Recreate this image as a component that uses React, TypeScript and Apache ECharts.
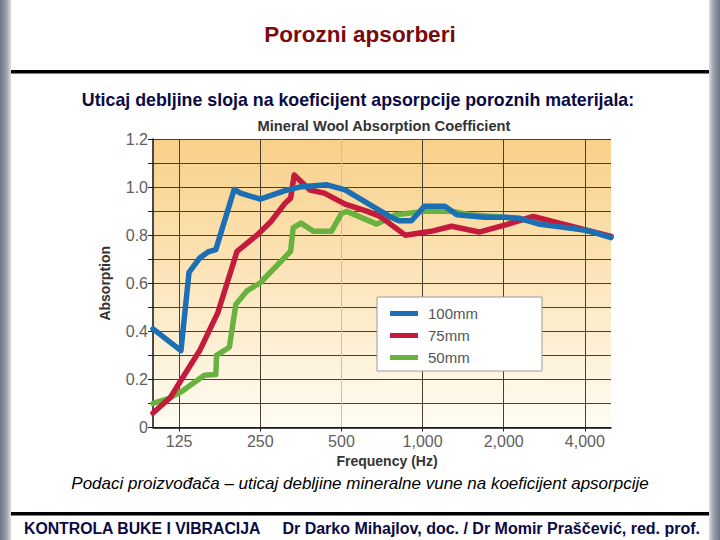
import React, { useEffect, useRef } from 'react';
import * as echarts from 'echarts';

// ---- data ----
const tickFreqs = [125, 250, 500, 1000, 2000, 4000];
const darkGridFreqs = [125, 250, 1000, 2000, 4000];
const lightGridFreqs = [500];
const freqMin = 100;
const freqMax = 5000;
const seriesNames = ['100mm', '75mm', '50mm'];

const freq100 = [100, 127, 136, 149, 160, 171, 200, 211, 250, 309, 349, 439, 516, 624, 754, 817, 909, 1015, 1210, 1340, 1700, 2000, 2294, 2724, 4070, 5000];
const abs100 = [0.41, 0.32, 0.645, 0.705, 0.73, 0.74, 0.99, 0.975, 0.95, 0.985, 1.0, 1.01, 0.988, 0.933, 0.878, 0.86, 0.86, 0.92, 0.92, 0.885, 0.875, 0.875, 0.87, 0.845, 0.82, 0.79];

const freq75 = [100, 116, 126, 149, 174, 205, 243, 274, 309, 324, 334, 382, 432, 516, 624, 695, 862, 1075, 1281, 1620, 2047, 2572, 5000];
const abs75 = [0.06, 0.125, 0.19, 0.32, 0.478, 0.733, 0.8, 0.857, 0.933, 0.954, 1.05, 0.988, 0.975, 0.929, 0.899, 0.878, 0.8, 0.816, 0.837, 0.813, 0.844, 0.878, 0.795];

const freq50 = [100, 114, 127, 155, 171, 172, 192, 203, 223, 250, 324, 331, 354, 394, 459, 500, 524, 676, 795, 1015, 1281, 1500, 2000, 2500, 4000, 5000];
const abs50 = [0.1, 0.12, 0.148, 0.217, 0.22, 0.3, 0.334, 0.513, 0.568, 0.602, 0.733, 0.83, 0.85, 0.816, 0.816, 0.89, 0.899, 0.846, 0.885, 0.899, 0.9, 0.885, 0.875, 0.86, 0.82, 0.795];

const colors = { '100mm': '#1d6fb4', '75mm': '#c41a3c', '50mm': '#6ab23f' };

const lg = (f: number) => Math.log2(f);
const pairs = (fs: number[], vs: number[]) => fs.map((f, i) => [lg(f), vs[i]]);

const FONT = '"Liberation Sans", Arial, sans-serif';

export default function App() {
  const ref = useRef<HTMLDivElement>(null);
  useEffect(() => {
    if (!ref.current) return;
    const chart = echarts.init(ref.current, null, { renderer: 'svg' });
    const lineSeries = (name: string, data: number[][]) => ({
      name,
      type: 'line',
      data,
      symbol: 'none',
      xAxisIndex: 0,
      yAxisIndex: 0,
      lineStyle: { width: 5.5, color: (colors as any)[name], cap: 'round', join: 'round' },
      itemStyle: { color: (colors as any)[name] },
      z: 3,
    });
    const option: any = {
      animation: false,
      backgroundColor: '#ffffff',
      textStyle: { fontFamily: FONT },
      grid: {
        left: 153,
        right: 109,
        top: 139,
        bottom: 112.5,
        show: true,
        borderWidth: 0,
        backgroundColor: new echarts.graphic.LinearGradient(0, 0, 0, 1, [
          { offset: 0, color: '#f8d089' },
          { offset: 0.5, color: '#fce6bd' },
          { offset: 1, color: '#fffcf4' },
        ]),
      },
      xAxis: [
        {
          type: 'value',
          min: lg(freqMin),
          max: lg(freqMax),
          axisLine: { show: true, lineStyle: { color: '#111', width: 1.5 } },
          axisTick: { show: true, customValues: darkGridFreqs.map(lg), length: 4, lineStyle: { color: '#222' } },
          axisLabel: {
            customValues: tickFreqs.map(lg),
            formatter: (v: number) => Math.round(Math.pow(2, v)).toLocaleString('en-US'),
            color: '#5e5e5e',
            fontSize: 16,
            margin: 6,
            fontFamily: FONT,
          },
          splitLine: { show: true, lineStyle: { color: '#4a4032', width: 1 } },
          name: 'Frequency (Hz)',
          nameLocation: 'middle',
          nameGap: 19,
          nameTextStyle: { fontSize: 14, fontWeight: 'bold', color: '#333', padding: [0, 0, 0, 10], fontFamily: FONT },
        },
        {
          type: 'value',
          min: lg(freqMin),
          max: lg(freqMax),
          position: 'bottom',
          axisLine: { show: false },
          axisTick: { show: true, customValues: lightGridFreqs.map(lg), length: 4, lineStyle: { color: '#222' } },
          axisLabel: { show: false },
          splitLine: { show: true, lineStyle: { color: '#c9c0b0', width: 1 } },
        },
      ],
      yAxis: {
        type: 'value',
        min: 0,
        max: 1.2,
        interval: 0.1,
        axisLine: { show: true, lineStyle: { color: '#111', width: 1.5 } },
        axisTick: { show: true, length: 5, lineStyle: { color: '#222' } },
        axisLabel: {
          formatter: (v: number) => {
            const r = Math.round(v * 10);
            if (r % 2 !== 0) return '';
            return r === 0 ? '0' : (r / 10).toFixed(1);
          },
          color: '#5e5e5e',
          fontSize: 16,
          margin: 5,
          fontFamily: FONT,
        },
        splitLine: { show: true, lineStyle: { color: '#4a4032', width: 1 } },
        name: 'Absorption',
        nameLocation: 'middle',
        nameGap: 41,
        nameTextStyle: { fontSize: 14, fontWeight: 'bold', color: '#333', fontFamily: FONT },
      },
      legend: {
        data: seriesNames,
        orient: 'vertical',
        left: 377,
        top: 297,
        backgroundColor: '#ffffff',
        borderColor: '#9a9a9a',
        borderWidth: 1,
        borderRadius: 0,
        padding: [9, 64, 6, 13],
        itemWidth: 28,
        itemHeight: 5,
        itemGap: 7,
        icon: 'rect',
        textStyle: { fontSize: 15, color: '#555', padding: [0, 0, 0, 5], fontFamily: FONT },
      },
      series: [
        lineSeries('50mm', pairs(freq50, abs50)),
        lineSeries('75mm', pairs(freq75, abs75)),
        lineSeries('100mm', pairs(freq100, abs100)),
      ],
      graphic: [
        {
          type: 'rect', shape: { x: 0, y: 0, width: 11, height: 540 }, silent: true,
          style: { fill: new echarts.graphic.LinearGradient(0, 0, 1, 0, [
            { offset: 0, color: '#6f7484' }, { offset: 0.6, color: '#9ea2ae' }, { offset: 1, color: '#dcdee4' },
          ]) },
        },
        {
          type: 'rect', shape: { x: 709, y: 0, width: 11, height: 540 }, silent: true,
          style: { fill: new echarts.graphic.LinearGradient(0, 0, 1, 0, [
            { offset: 0, color: '#dcdee4' }, { offset: 0.4, color: '#9ea2ae' }, { offset: 1, color: '#6f7484' },
          ]) },
        },
        { type: 'rect', shape: { x: 11, y: 70, width: 698, height: 3.5 }, style: { fill: '#000' }, silent: true },
        { type: 'rect', shape: { x: 11, y: 512, width: 698, height: 3.5 }, style: { fill: '#000' }, silent: true },
        {
          type: 'text', x: 360, y: 34,
          style: { text: 'Porozni apsorberi', fill: '#7a0a0a', font: 'bold 22.5px ' + FONT, textAlign: 'center', textVerticalAlign: 'middle' },
        },
        {
          type: 'text', x: 358, y: 100,
          style: { text: 'Uticaj debljine sloja na koeficijent apsorpcije poroznih materijala:', fill: '#0a0a45', font: 'bold 17.8px ' + FONT, textAlign: 'center', textVerticalAlign: 'middle' },
        },
        {
          type: 'text', x: 384, y: 126,
          style: { text: 'Mineral Wool Absorption Coefficient', fill: '#333', font: 'bold 14.7px ' + FONT, textAlign: 'center', textVerticalAlign: 'middle' },
        },
        {
          type: 'text', x: 360, y: 483,
          style: { text: 'Podaci proizvođača – uticaj debljine mineralne vune na koeficijent apsorpcije', fill: '#000', font: 'italic 17px ' + FONT, textAlign: 'center', textVerticalAlign: 'middle' },
        },
        {
          type: 'text', x: 24, y: 528,
          style: { text: 'KONTROLA BUKE I VIBRACIJA', fill: '#0a0a45', font: 'bold 15.8px ' + FONT, textAlign: 'left', textVerticalAlign: 'middle' },
        },
        {
          type: 'text', x: 700, y: 528,
          style: { text: 'Dr Darko Mihajlov, doc. / Dr Momir Praščević, red. prof.', fill: '#0a0a45', font: 'bold 16px ' + FONT, textAlign: 'right', textVerticalAlign: 'middle' },
        },
      ],
    };
    chart.setOption(option);
    return () => chart.dispose();
  }, []);
  return <div ref={ref} style={{ position: 'fixed', left: 0, top: 0, width: 720, height: 540 }} />;
}
